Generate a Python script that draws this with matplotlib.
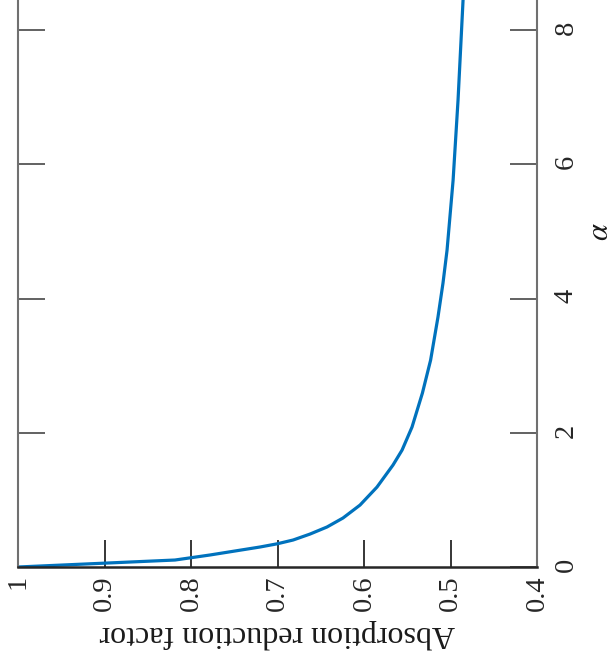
import matplotlib
matplotlib.use("Agg")
import matplotlib.pyplot as plt

# Absorption reduction factor versus alpha
alpha = [0.0, 0.104, 0.179, 0.298, 0.345, 0.402, 0.491, 0.596, 0.730, 0.923,
         1.191, 1.519, 1.742, 2.085, 2.591, 3.083, 3.723, 4.229, 4.721, 5.763,
         6.955, 8.444, 8.6]
factor = [1.0, 0.8185, 0.778, 0.7202, 0.7006, 0.682, 0.6624, 0.6428, 0.6243, 0.6046,
          0.585, 0.5665, 0.556, 0.5445, 0.5325, 0.523, 0.5145, 0.5087, 0.504, 0.497,
          0.4913, 0.4855, 0.4850]

factor_ticks = [1.0, 0.9, 0.8, 0.7, 0.6, 0.5, 0.4]
factor_labels = ["1", "0.9", "0.8", "0.7", "0.6", "0.5", "0.4"]
alpha_ticks = [0, 2, 4, 6, 8]
alpha_labels = ["0", "2", "4", "6", "8"]

plt.rcParams["font.family"] = ["Liberation Serif", "DejaVu Serif"]
plt.rcParams["mathtext.fontset"] = "stix"

W, H = 613, 669
fig = plt.figure(figsize=(W / 100, H / 100), dpi=100)
ax = fig.add_axes([18 / W, (H - 567) / H, (537 - 18) / W, 567 / H])

ax.plot(factor, alpha, color="#0072BD", lw=2.3, solid_joinstyle="round")

ax.set_xlim(1.0, 0.4)
ax.set_ylim(0, 8.45)

gray = "#707070"
dark = "#262626"
for side in ("left", "right"):
    ax.spines[side].set_color(gray)
    ax.spines[side].set_linewidth(1.5)
ax.spines["bottom"].set_color(dark)
ax.spines["bottom"].set_linewidth(1.8)
ax.spines["top"].set_visible(False)

ax.set_xticks(factor_ticks)
ax.set_xticklabels(factor_labels)
ax.tick_params(axis="x", direction="in", length=19.5, width=1.3, color=dark,
               labelsize=20.5, labelcolor=dark, labelrotation=90, pad=6,
               top=False)

ax.set_yticks(alpha_ticks)
ax.set_yticklabels(alpha_labels)
ax.tick_params(axis="y", direction="in", length=19.5, width=1.3, color="#555555",
               labelsize=20.5, labelcolor=dark, labelrotation=90, pad=12,
               left=True, right=True, labelleft=False, labelright=True)

ax.set_xlabel("Absorption reduction factor", fontsize=23, rotation=180,
              color="#1a1a1a", labelpad=6)

# alpha axis title, placed in figure coordinates beside the right axis
fig.text(600 / W, 1 - 232 / H, r"$\alpha$", fontsize=22, rotation=90,
         color="#1a1a1a", ha="center", va="center")

fig.savefig("out.png", dpi=100)
